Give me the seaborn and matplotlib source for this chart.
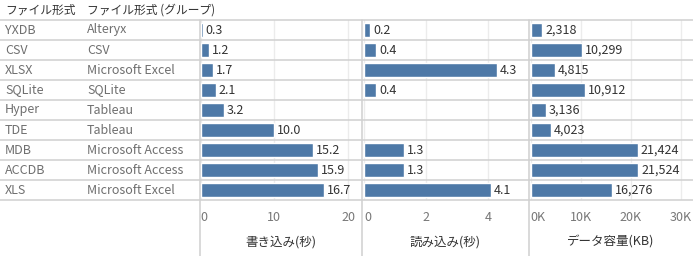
import numpy as np
import pandas as pd
import matplotlib
matplotlib.use("Agg")
import matplotlib.pyplot as plt
import seaborn as sns
from matplotlib.lines import Line2D
from matplotlib.ticker import FuncFormatter

formats = ["YXDB", "CSV", "XLSX", "SQLite", "Hyper", "TDE", "MDB", "ACCDB", "XLS"]
groups = ["Alteryx", "CSV", "Microsoft Excel", "SQLite", "Tableau", "Tableau",
          "Microsoft Access", "Microsoft Access", "Microsoft Excel"]
write_sec = [0.3, 1.2, 1.7, 2.1, 3.2, 10.0, 15.2, 15.9, 16.7]
read_sec = [0.2, 0.4, 4.3, 0.4, np.nan, np.nan, 1.3, 1.3, 4.1]
size_kb = [2318, 10299, 4815, 10912, 3136, 4023, 21424, 21524, 16276]

header_cols = ["ファイル形式", "ファイル形式 (グループ)"]
titles = ["書き込み(秒)", "読み込み(秒)", "データ容量(KB)"]
ticks1 = [0, 10, 20]
ticks2 = [0, 2, 4]
ticks3 = [0, 10000, 20000, 30000]

df = pd.DataFrame({"format": formats, "group": groups, "write": write_sec,
                   "read": read_sec, "size": size_kb})

sns.set_theme(style="white")
plt.rcParams["font.family"] = ["Noto Sans CJK JP", "DejaVu Sans"]

W, H = 693, 256
fig = plt.figure(figsize=(W / 100, H / 100), dpi=100)

BAR = "#4e79a7"
SEP = "#d0d0d0"
GRID = "#ececec"
TXT = "#333333"
GRAY = "#6f6f6f"

def fx(px):
    return px / W

def fy(py):
    return 1 - py / H

top, bottom = 20, 200
panels = [
    (200, 362, "write", (-0.08, 21.9), ticks1, lambda v, p: f"{v:.0f}", lambda v: f"{v:.1f}"),
    (363, 528, "read", (-0.03, 5.3), ticks2, lambda v, p: f"{v:.0f}", lambda v: f"{v:.1f}"),
    (529, 693, "size", (-300, 32500), ticks3, lambda v, p: f"{v/1000:.0f}K", lambda v: f"{v:,.0f}"),
]

for i, (x0, x1, col, xlim, ticks, tfmt, vfmt) in enumerate(panels):
    ax = fig.add_axes([fx(x0), fy(bottom), fx(x1 - x0), (bottom - top) / H])
    sns.barplot(data=df, y="format", x=col, orient="h", color=BAR, width=0.7,
                ax=ax, saturation=1, order=formats)
    ax.set_xlim(*xlim)
    ax.set_ylim(len(formats) - 0.5, -0.5)
    ax.set_xticks(ticks)
    ax.xaxis.set_major_formatter(FuncFormatter(tfmt))
    ax.tick_params(axis="x", length=0, pad=8, labelsize=9, labelcolor="#777777")
    labs = ax.get_xticklabels()
    if labs:
        labs[0].set_horizontalalignment("left")
    ax.set_yticks([])
    ax.set_xlabel("")
    ax.set_ylabel("")
    ax.grid(axis="x", color=GRID, linewidth=1)
    ax.set_axisbelow(True)
    for s in ax.spines.values():
        s.set_visible(False)
    span = xlim[1] - xlim[0]
    for j, v in enumerate(df[col]):
        if np.isnan(v):
            continue
        ax.text(v + span * 0.018, j, vfmt(v), va="center", ha="left",
                fontsize=9, color=TXT)
    fig.text(fx((x0 + x1) / 2), fy(242), titles[i], ha="center", va="center",
             fontsize=9, color=TXT)

# header
fig.text(fx(5), fy(10), header_cols[0], ha="left", va="center", fontsize=8.5, color=TXT)
fig.text(fx(87), fy(10), header_cols[1], ha="left", va="center", fontsize=8.5, color=TXT)

for j in range(len(formats)):
    yc = top + 20 * j + 10
    fig.text(fx(5), fy(yc), formats[j], ha="left", va="center", fontsize=9, color=GRAY)
    fig.text(fx(87), fy(yc), groups[j], ha="left", va="center", fontsize=9, color=GRAY)

# row separators
for j in range(len(formats) + 1):
    y = top + 20 * j
    fig.add_artist(Line2D([0, 1], [fy(y), fy(y)], color=SEP, linewidth=1.1))

# vertical panel borders
for xv in [200, 362.5, 528.5]:
    fig.add_artist(Line2D([fx(xv), fx(xv)], [fy(top), 0], color=SEP, linewidth=1.1))

fig.savefig("out.png", dpi=100)
